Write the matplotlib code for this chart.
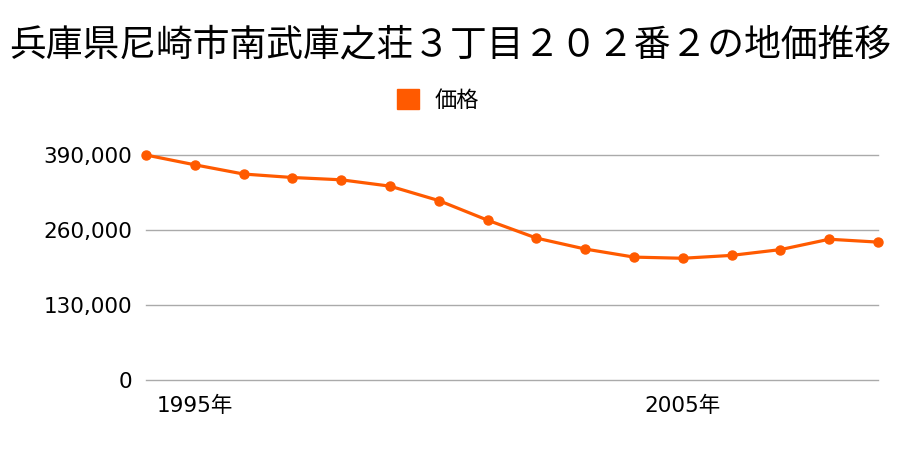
import matplotlib
matplotlib.use("Agg")
import matplotlib.pyplot as plt

plt.rcParams["font.family"] = ["Noto Sans CJK JP", "DejaVu Sans"]

# land price per year (yen/m2)
years = [1994, 1995, 1996, 1997, 1998, 1999, 2000, 2001,
         2002, 2003, 2004, 2005, 2006, 2007, 2008, 2009]
prices = [390000, 373000, 357000, 351000, 347000, 336000, 311000, 277000,
          246000, 227000, 213000, 211000, 216000, 226000, 244000, 239000]
y_ticks = [0, 130000, 260000, 390000]
x_ticks = [1995, 2005]
title = "兵庫県尼崎市南武庫之荘３丁目２０２番２の地価推移"
series_name = "価格"

color = "#ff5a00"
tick_font = ["DejaVu Sans", "Noto Sans CJK JP"]

fig = plt.figure(figsize=(9, 4.5), dpi=100)
ax = fig.add_axes([146 / 900, 1 - 380 / 450, (878 - 146) / 900, 225 / 450])

ax.plot(years, prices, color=color, linewidth=2.3, marker="o",
        markersize=6.5, clip_on=False, zorder=3, label=series_name)

ax.set_xlim(years[0], years[-1])
ax.set_ylim(0, 390000)
ax.set_yticks(y_ticks)
ax.set_yticklabels([f"{v:,}" for v in y_ticks], fontsize=15.5, family=tick_font)
ax.set_xticks(x_ticks)
ax.set_xticklabels([f"{y}年" for y in x_ticks], fontsize=15.5, family=tick_font)
ax.tick_params(axis="both", length=0)
ax.tick_params(axis="y", pad=10)
ax.tick_params(axis="x", pad=11)
ax.grid(axis="y", color="#aaaaaa", linewidth=1)
for gl in ax.get_ygridlines():
    gl.set_clip_on(False)
ax.set_axisbelow(True)
for s in ax.spines.values():
    s.set_visible(False)

fig.text(0.5, 1 - 45 / 450, title, ha="center", va="center", fontsize=26.5)
fig.legend(handles=[plt.Rectangle((0, 0), 1, 1, color=color)],
           labels=[series_name], loc="center", bbox_to_anchor=(0.487, 1 - 100 / 450),
           frameon=False, fontsize=16, handlelength=1.0, handleheight=1.0,
           handletextpad=0.7)

fig.savefig("out.png", dpi=100)
